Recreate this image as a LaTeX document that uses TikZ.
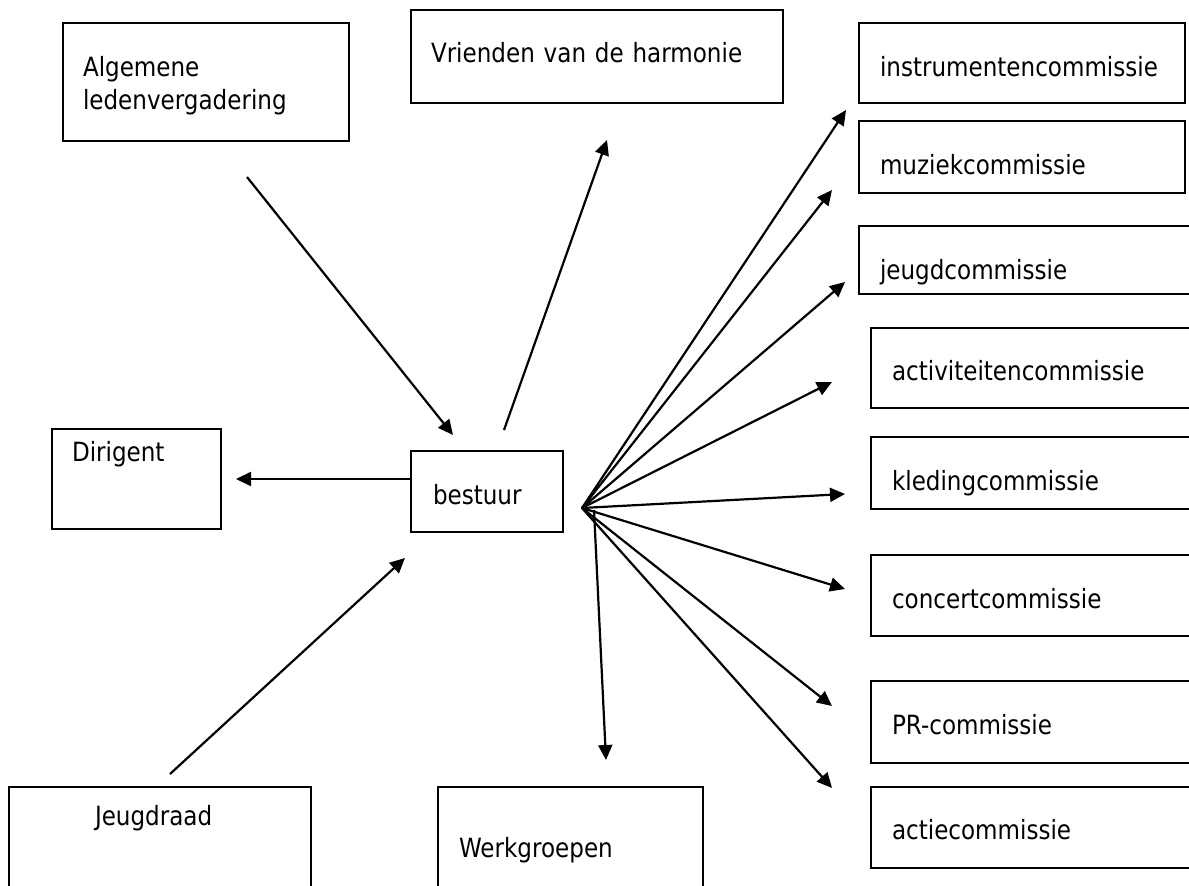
\documentclass[tikz,border=0pt]{standalone}
\usepackage{fontspec}
\setmainfont{DejaVu Sans}[FakeStretch=0.87]
\usetikzlibrary{arrows.meta}
\tikzset{
  %% box : a body of the association
  box/.style={
    rectangle,
    draw=black,
    line width=2pt,
    anchor=north west,
    inner xsep=21pt,
    inner ysep=0pt,
    text height=53pt,
    align=left
  },
  %% arrow : line from one body to another
  arrow/.style={
    line width=2.2pt,
    -{Triangle[length=15pt,width=14pt]}
  }
}

\begin{document}
\begin{tikzpicture}
  [x=1pt,
  y=-1pt,
  font=\fontsize{26.5}{33}\selectfont]

  \path [use as bounding box, fill=white] (0, 0) rectangle (1189, 886);

  %% Left and centre
  \node (alv) [box, inner xsep=20pt, text width=246pt, text height=53pt,
    text depth=65pt] at (62, 22) {%
    Algemene\\
    ledenvergadering
  };

  \node (vrienden) [box, inner xsep=20pt, text width=332pt,
    text height=52pt, text depth=41pt] at (410, 9) {%
    Vrienden van de harmonie
  };

  \node (dirigent) [box, inner xsep=20pt, text width=129pt, text height=32pt,
    text depth=68pt] at (51, 428) {%
    Dirigent
  };

  \node (bestuur) [box, inner xsep=22pt, text width=108pt,
    text depth=28pt] at (410, 450) {%
    bestuur
  };

  \node (jeugdraad) [box, inner xsep=86pt, text width=130pt,
    text height=38pt, text depth=66pt] at (8, 786) {%
    Jeugdraad
  };

  \node (werkgroepen) [box, text width=223pt, text height=70pt,
    text depth=34pt] at (437, 786) {%
    Werkgroepen
  };

  %% Commissions
  \node (instr) [box, text width=284pt, text depth=27pt] at (858, 22) {%
    instrumentencommissie
  };

  \node (muziek) [box, text width=284pt, text depth=19pt] at (858, 120) {%
    muziekcommissie
  };

  \node (jeugd) [box, text width=292pt, text depth=15pt] at (858, 225) {%
    jeugdcommissie
  };

  \node (activiteiten) [box, text width=282pt, text height=52pt,
    text depth=28pt] at (870, 327) {%
    activiteitencommissie
  };

  \node (kleding) [box, text width=282pt, text depth=19pt] at (870, 436) {%
    kledingcommissie
  };

  \node (concert) [box, text width=282pt, text depth=28pt] at (870, 554) {%
    concertcommissie
  };

  \node (pr) [box, text width=282pt, text depth=29pt] at (870, 680) {%
    PR-commissie
  };

  \node (actie) [box, text width=282pt, text height=52pt,
    text depth=29pt] at (870, 786) {%
    actiecommissie
  };

  %% Loose ends of the connections
  \coordinate (alvout) at (247, 177);
  \coordinate (bestuurin) at (453, 435);
  \coordinate (bestuurup) at (504, 430);
  \coordinate (vriendenin) at (607, 140);
  \coordinate (bestuurleft) at (410, 479);
  \coordinate (dirigentin) at (236, 479);
  \coordinate (jeugdraadout) at (170, 774);
  \coordinate (bestuurlow) at (405, 558);
  \coordinate (fan) at (582, 508);
  \coordinate (fanlow) at (594, 510);
  \coordinate (werkin) at (606, 760);

  \coordinate (instrin) at (846, 110);
  \coordinate (muziekin) at (832, 190);
  \coordinate (jeugdin) at (845, 282);
  \coordinate (activiteitenin) at (832, 382);
  \coordinate (kledingin) at (845, 494);
  \coordinate (concertin) at (845, 589);
  \coordinate (prin) at (832, 706);
  \coordinate (actiein) at (832, 788);

  %% Connections
  \draw [arrow] (alvout) -- (bestuurin);
  \draw [arrow] (bestuurup) -- (vriendenin);
  \draw [arrow] (bestuurleft) -- (dirigentin);
  \draw [arrow] (jeugdraadout) -- (bestuurlow);
  \draw [arrow] (fanlow) -- (werkin);

  \draw [arrow] (fan) -- (instrin);
  \draw [arrow] (fan) -- (muziekin);
  \draw [arrow] (fan) -- (jeugdin);
  \draw [arrow] (fan) -- (activiteitenin);
  \draw [arrow] (fan) -- (kledingin);
  \draw [arrow] (fan) -- (concertin);
  \draw [arrow] (fan) -- (prin);
  \draw [arrow] (fan) -- (actiein);

\end{tikzpicture}
\end{document}
